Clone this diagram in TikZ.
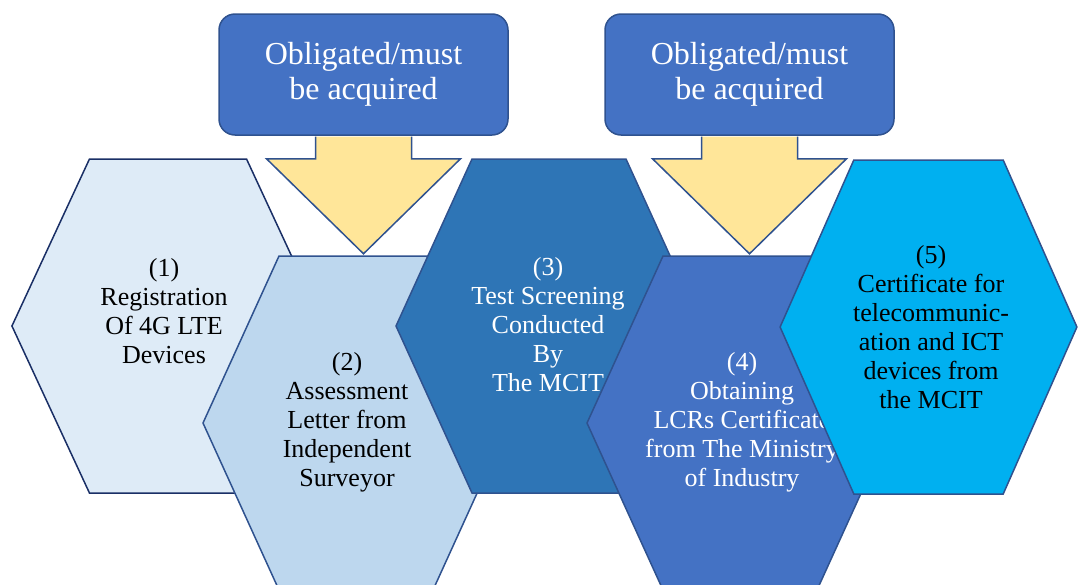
\documentclass[tikz,border=0pt]{standalone}
\usepackage{fontspec}
\setmainfont{Liberation Serif}
\usepackage{xcolor}
\usetikzlibrary{positioning}

\definecolor{hexonefill}{HTML}{DEEBF7}
\definecolor{hexoneline}{HTML}{1A2F66}
\definecolor{hextwofill}{HTML}{BDD7EE}
\definecolor{hexthreefill}{HTML}{2E75B6}
\definecolor{hexfourfill}{HTML}{4472C4}
\definecolor{hexfivefill}{HTML}{00B0F0}
\definecolor{edgeblue}{HTML}{2F528F}
\definecolor{calloutfill}{HTML}{4472C4}
\definecolor{arrowfill}{HTML}{FFE699}

\begin{document}
\begin{tikzpicture}[x=1pt, y=-1pt,
    hexcell/.pic={\path[pic actions] (-153,0) -- (-77,-167) -- (77,-167) -- (153,0) -- (77,167) -- (-77,167) -- cycle;},
    blockarrow/.pic={\path[pic actions] (48,0.8) -- (48,23) -- (97,23) -- (0,118) -- (-97,23) -- (-48,23) -- (-48,0.8);},
    hexline/.style={draw=edgeblue, line width=1.5pt},
    steptext/.style={align=center, inner sep=0pt, font=\fontsize{26}{29}\selectfont},
    obbox/.style={rectangle, rounded corners=16pt, draw=edgeblue, fill=calloutfill, line width=1.5pt,
        minimum width=289pt, minimum height=121pt, text=white, align=center,
        font=\fontsize{32}{35}\selectfont}
]
    \useasboundingbox (0,0) rectangle (1078,584);
    \clip (0,0) rectangle (1078,584);

    % the five steps, each one laid over the one before
    \pic[hexline, draw=hexoneline, fill=hexonefill, xscale=1.02] at (168,326) {hexcell};
    \node[steptext] (s1) at (164,311) {(1)\\Registration\\Of 4G LTE\\Devices};

    \pic[hexline, fill=hextwofill] at (356,423) {hexcell};
    \node[steptext] (s2) at (347,422) {(2)\\Assessment\\Letter from\\Independent\\Surveyor};

    \pic[hexline, fill=hexthreefill] at (549,326) {hexcell};
    \node[steptext, text=white] (s3) at (548,325) {(3)\\Test Screening\\Conducted\\By\\The MCIT};

    \pic[hexline, fill=hexfourfill] at (740,423) {hexcell};
    \node[steptext, text=white] (s4) at (742,422) {(4)\\Obtaining\\LCRs Certificate\\from The Ministry\\of Industry};

    \pic[hexline, fill=hexfivefill, xscale=0.97] at (928.5,327) {hexcell};
    \node[steptext] (s5) at (931,327) {(5)\\Certificate for\\telecommunic-\\ation and ICT\\devices from\\the MCIT};

    % obligation boxes
    \node[obbox] (ob1) at (363.5,74.5) {Obligated/must\\be acquired};
    \node[obbox] (ob2) at (749.5,74.5) {Obligated/must\\be acquired};

    \pic[hexline, fill=arrowfill] at (ob1.south) {blockarrow};
    \pic[hexline, fill=arrowfill] at (ob2.south) {blockarrow};
\end{tikzpicture}
\end{document}
